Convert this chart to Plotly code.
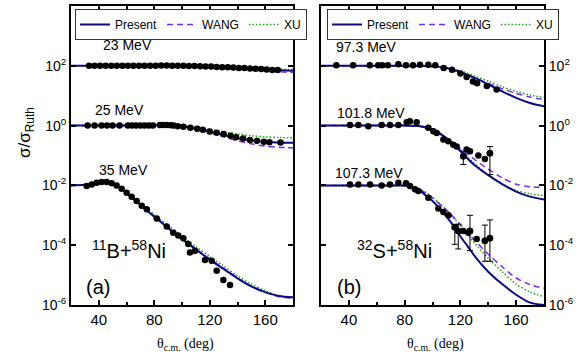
import plotly.graph_objects as go

# ---------------- data ----------------
# theory curves, panel (a): ratio sigma/sigma_Ruth before vertical offset
THETA_A = [20, 30, 40, 45, 50, 55, 60, 65, 70, 80, 90, 100, 110, 120, 130, 140, 150, 160, 170, 180]
A23_PRESENT = [1, 1, 1, 1, 1, 1, 1, 1, 1, 1, 1, 1.0, 0.98, 0.95, 0.91, 0.86, 0.8, 0.75, 0.71, 0.68]
A23_WANG    = [1, 1, 1, 1, 1, 1, 1, 1, 1, 1, 1, 0.99, 0.96, 0.92, 0.86, 0.8, 0.74, 0.68, 0.63, 0.6]
A23_XU      = [1, 1, 1, 1, 1, 1, 1, 1, 1, 1, 1, 1.0, 0.99, 0.97, 0.93, 0.89, 0.84, 0.8, 0.77, 0.75]
A25_PRESENT = [1, 1, 1, 1, 1, 1, 1, 1.01, 1.02, 1.03, 1.02, 0.95, 0.82, 0.64, 0.48, 0.38, 0.32, 0.29, 0.27, 0.265]
A25_WANG    = [1, 1, 1, 1, 1, 1, 1, 1.01, 1.02, 1.02, 1.0, 0.92, 0.76, 0.58, 0.42, 0.31, 0.245, 0.205, 0.19, 0.18]
A25_XU      = [1, 1, 1, 1, 1, 1, 1, 1.01, 1.02, 1.03, 1.03, 0.98, 0.88, 0.75, 0.62, 0.53, 0.46, 0.42, 0.4, 0.39]
A35_PRESENT = [1.0, 1.05, 1.28, 1.3, 1.15, 0.85, 0.56, 0.36, 0.22, 0.09, 0.038, 0.016, 0.0072, 0.0033, 0.0016,
               0.00078, 0.00042, 0.00027, 0.0002, 0.00018]
A35_WANG    = [1.0, 1.05, 1.28, 1.3, 1.15, 0.86, 0.57, 0.37, 0.23, 0.095, 0.04, 0.017, 0.0076, 0.0035, 0.0017,
               0.0008, 0.00042, 0.00026, 0.00019, 0.00017]
A35_XU      = [1.0, 1.06, 1.3, 1.32, 1.18, 0.9, 0.62, 0.4, 0.25, 0.105, 0.046, 0.02, 0.009, 0.0042, 0.002,
               0.00095, 0.0005, 0.0003, 0.0002, 0.00017]

# theory curves, panel (b)
THETA_B = [20, 40, 60, 70, 80, 85, 90, 95, 100, 105, 110, 115, 120, 125, 130, 140, 150, 160, 170, 180]
B97_PRESENT = [1, 1, 1, 1, 1, 1, 1.0, 0.99, 0.97, 0.92, 0.85, 0.74, 0.62, 0.5, 0.4, 0.24, 0.14, 0.085, 0.057, 0.044]
B97_WANG    = [1, 1, 1, 1, 1, 1, 0.99, 0.97, 0.93, 0.87, 0.78, 0.68, 0.58, 0.48, 0.4, 0.26, 0.17, 0.12, 0.09, 0.075]
B97_XU      = [1, 1, 1, 1, 1, 1, 1.0, 0.99, 0.98, 0.94, 0.88, 0.78, 0.68, 0.57, 0.47, 0.31, 0.2, 0.14, 0.105, 0.088]
B101_PRESENT = [1, 1, 1, 1, 1, 0.99, 0.97, 0.88, 0.74, 0.56, 0.38, 0.24, 0.14, 0.08, 0.048, 0.022, 0.011, 0.0062, 0.0042, 0.0034]
B101_WANG    = [1, 1, 1, 1, 1, 0.98, 0.94, 0.84, 0.7, 0.53, 0.38, 0.26, 0.17, 0.11, 0.075, 0.035, 0.018, 0.011, 0.009, 0.0085]
B101_XU      = [1, 1, 1, 1, 1, 0.99, 0.96, 0.86, 0.72, 0.54, 0.37, 0.24, 0.15, 0.09, 0.055, 0.022, 0.011, 0.0068, 0.0052, 0.0046]
B107_PRESENT = [1, 1, 1, 1, 0.99, 0.93, 0.72, 0.47, 0.3, 0.17, 0.09, 0.045, 0.02, 0.0095, 0.0045, 0.0013, 0.0005,
                0.00022, 0.00012, 0.0001]
B107_WANG    = [1, 1, 1, 1, 0.98, 0.9, 0.75, 0.56, 0.38, 0.24, 0.15, 0.087, 0.05, 0.027, 0.015, 0.005, 0.0019,
                0.0008, 0.00048, 0.00036]
B107_XU      = [1, 1, 1, 1, 0.99, 0.93, 0.8, 0.6, 0.4, 0.25, 0.15, 0.085, 0.045, 0.024, 0.012, 0.0037, 0.0013,
                0.0005, 0.00027, 0.00019]

# experimental data
D23_THETA = [33, 37, 41, 45, 49, 53, 57, 61, 65, 69, 73, 77, 81, 85, 89, 93, 97, 101, 105, 109, 113, 117, 121,
             125, 129, 133, 137, 141, 145, 149, 153, 157, 161, 165, 169]
D23_RATIO = [1.0, 1.0, 1.0, 1.0, 1.0, 1.0, 1.0, 1.0, 1.0, 1.0, 1.0, 1.0, 1.0, 1.02, 1.02, 1.0, 1.0, 1.0, 0.98,
             0.98, 0.96, 0.95, 0.95, 0.92, 0.9, 0.9, 0.88, 0.85, 0.84, 0.82, 0.8, 0.78, 0.75, 0.73, 0.72]
D25_THETA = [32, 37, 42, 46, 50, 55, 61, 64, 67, 70, 73, 76, 79, 84, 86, 89, 92, 94, 97, 101, 106, 111, 115,
             120, 125, 130, 135, 139, 144, 149, 154, 159, 163, 171]
D25_RATIO = [1.0, 1.0, 1.0, 1.0, 1.0, 1.0, 1.0, 1.0, 1.0, 1.0, 1.0, 1.0, 1.0, 1.04, 1.05, 1.04, 1.02, 1.0, 0.96,
             0.92, 0.85, 0.78, 0.72, 0.64, 0.58, 0.52, 0.46, 0.41, 0.37, 0.33, 0.31, 0.29, 0.28, 0.27]
D35_THETA = [31.3, 34.9, 38.5, 42.1, 45.7, 49.3, 52.9, 56.5, 60.1, 63.7, 67.3, 71.0, 74.6, 81.8, 89.0, 93.7,
             97.3, 101.0, 104.5, 105.7, 109.4, 116.6, 121.4, 125.0, 129.8, 134.6]
D35_RATIO = [0.95, 1.07, 1.23, 1.29, 1.29, 1.17, 1.0, 0.78, 0.57, 0.42, 0.30, 0.21, 0.158, 0.078, 0.042, 0.026,
             0.021, 0.017, 0.011, 0.0057, 0.0065, 0.0032, 0.003, 0.0014, 0.00068, 0.00047]

D97_THETA = [31, 43, 55, 61, 64, 68, 75.5, 81, 86, 91, 97, 102, 108, 114, 120, 124.5, 129, 132, 139, 146]
D97_RATIO = [1.05, 1.05, 1.05, 1.05, 1.05, 1.05, 1.12, 1.05, 1.05, 1.08, 1.08, 1.05, 0.84, 0.74, 0.55, 0.42,
             0.3, 0.26, 0.21, 0.16]
D101_THETA = [40.8, 46.8, 53.9, 63.5, 69.5, 75.5, 81.5, 83.8, 88.6, 97.0, 100.6, 103.0, 107.8, 111.3, 114.9,
              117.3, 122.1, 124.5, 126.9, 132.9, 137.6, 141.2]
D101_RATIO = [1.05, 1.05, 0.95, 1.05, 1.05, 1.05, 1.29, 1.39, 1.29, 0.84, 0.65, 0.57, 0.34, 0.3, 0.23, 0.2,
              0.095, 0.16, 0.14, 0.1, 0.077, 0.12]
D101_LO = [None] * 16 + [0.05, None, None, None, None, 0.023]
D101_HI = [None] * 16 + [0.14, None, None, None, None, 0.2]
D107_THETA = [40.8, 46.8, 55.2, 63.5, 69.5, 75.5, 81.0, 83.8, 87.4, 89.8, 97.0, 104.2, 107.8, 111.5, 116.0,
              118.5, 122.1, 125.7, 126.9, 131.7, 137.6, 141.2]
D107_RATIO = [1.08, 1.08, 1.08, 1.0, 1.08, 1.23, 1.17, 0.95, 0.74, 0.65, 0.39, 0.17, 0.13, 0.1, 0.04, 0.03,
              0.03, 0.026, 0.03, 0.016, 0.014, 0.017]
D107_LO = [None] * 14 + [0.0107, 0.0075, None, None, 0.0066, None, 0.0029, 0.0029]
D107_HI = [None] * 14 + [0.05, 0.05, None, None, 0.1, None, 0.047, 0.07]

OFFSETS = [100, 1, 0.01]
ENERGY_A = ["23 MeV", "25 MeV", "35 MeV"]
ENERGY_B = ["97.3 MeV", "101.8 MeV", "107.3 MeV"]
MODEL_NAMES = ["Present", "WANG", "XU"]
Y_TICKS = [1e-6, 1e-4, 1e-2, 1, 1e2]
Y_TICKTEXT = ["10<sup>-6</sup>", "10<sup>-4</sup>", "10<sup>-2</sup>", "10<sup>0</sup>", "10<sup>2</sup>"]
X_TICKS = [40, 80, 120, 160]

# ---------------- styles ----------------
STYLE = {
    "Present": dict(color="#0b0b80", dash="solid", width=2),
    "WANG": dict(color="#7a2be6", dash="6px,4px", width=1.5),
    "XU": dict(color="#1aa51a", dash="1.5px,2px", width=1.5),
}
FONT = "Liberation Sans, Arial, sans-serif"
SERIF = "Liberation Serif, Times New Roman, serif"

fig = go.Figure()

panels = [
    dict(xa="x", ya="y", legend="legend", theta=THETA_A,
         curves=[(A23_PRESENT, A23_WANG, A23_XU), (A25_PRESENT, A25_WANG, A25_XU), (A35_PRESENT, A35_WANG, A35_XU)],
         data=[(D23_THETA, D23_RATIO, None, None), (D25_THETA, D25_RATIO, None, None),
               (D35_THETA, D35_RATIO, None, None)]),
    dict(xa="x2", ya="y2", legend="legend2", theta=THETA_B,
         curves=[(B97_PRESENT, B97_WANG, B97_XU), (B101_PRESENT, B101_WANG, B101_XU),
                 (B107_PRESENT, B107_WANG, B107_XU)],
         data=[(D97_THETA, D97_RATIO, None, None), (D101_THETA, D101_RATIO, D101_LO, D101_HI),
               (D107_THETA, D107_RATIO, D107_LO, D107_HI)]),
]

for p in panels:
    for mi in [2, 1, 0]:
        name = MODEL_NAMES[mi]
        st = STYLE[name]
        for si, (off, cset) in enumerate(zip(OFFSETS, p["curves"])):
            fig.add_trace(go.Scatter(
                x=p["theta"], y=[v * off for v in cset[mi]], mode="lines", name=name,
                line=dict(color=st["color"], dash=st["dash"], width=st["width"], shape="spline", smoothing=0.8),
                xaxis=p["xa"], yaxis=p["ya"], legend=p["legend"], legendgroup=p["legend"] + name,
                legendrank=mi, showlegend=(si == 0), hoverinfo="skip"))
    for off, (th, r, lo, hi) in zip(OFFSETS, p["data"]):
        fig.add_trace(go.Scatter(
            x=th, y=[v * off for v in r], mode="markers",
            marker=dict(color="black", size=6.5, symbol="circle"),
            xaxis=p["xa"], yaxis=p["ya"], showlegend=False, hoverinfo="skip"))
        if lo is not None:
            idx = [i for i in range(len(th)) if lo[i] is not None]
            fig.add_trace(go.Scatter(
                x=[th[i] for i in idx], y=[r[i] * off for i in idx], mode="markers",
                marker=dict(color="black", size=6.5),
                error_y=dict(type="data", symmetric=False,
                             array=[(hi[i] - r[i]) * off for i in idx],
                             arrayminus=[(r[i] - lo[i]) * off for i in idx],
                             color="black", thickness=1, width=3),
                xaxis=p["xa"], yaxis=p["ya"], showlegend=False, hoverinfo="skip"))

W, H = 586, 359
def px_x(x): return x / W
def px_y(y): return 1 - y / H

common_x = dict(range=[20, 180], tickvals=X_TICKS, ticks="inside", ticklen=5, tickwidth=1.5,
                tickcolor="black", showline=True, linewidth=2, linecolor="black", mirror="ticks",
                showgrid=False, zeroline=False, tickfont=dict(family=FONT, size=15, color="black"),
                minor=dict(tickvals=[60, 100, 140], ticks="inside", ticklen=3, tickcolor="black"))
common_y = dict(type="log", range=[-6, 4], tickvals=Y_TICKS, ticktext=Y_TICKTEXT, ticks="inside", ticklen=5,
                tickwidth=1.5, tickcolor="black", showline=True, linewidth=2, linecolor="black",
                mirror="ticks", showgrid=False, zeroline=False,
                tickfont=dict(family=FONT, size=14, color="black"))

legend_common = dict(orientation="h", bordercolor="#333333", borderwidth=1, bgcolor="white",
                     font=dict(family=FONT, size=12, color="black"), xanchor="left", yanchor="top",
                     itemwidth=30, tracegroupgap=0)

annotations = []
for (xa, ya, labels, th_pos, ly) in [
        ("x", "y", ENERGY_A, [60.7, 55, 57.8], [2.7, 0.53, -1.47]),
        ("x2", "y2", ENERGY_B, [52.3, 55.6, 54.5], [2.63, 0.43, -1.58])]:
    for t, xx, yy in zip(labels, th_pos, ly):
        annotations.append(dict(x=xx, y=yy, xref=xa, yref=ya, text=t, showarrow=False,
                                font=dict(family=FONT, size=14, color="black")))
annotations += [
    dict(x=61.8, y=-4.15, xref="x", yref="y", text="<sup>11</sup>B+<sup>58</sup>Ni", showarrow=False,
         font=dict(family=FONT, size=20, color="black")),
    dict(x=39.6, y=-5.4, xref="x", yref="y", text="(a)", showarrow=False,
         font=dict(family=FONT, size=20, color="black")),
    dict(x=72.4, y=-4.15, xref="x2", yref="y2", text="<sup>32</sup>S+<sup>58</sup>Ni", showarrow=False,
         font=dict(family=FONT, size=20, color="black")),
    dict(x=40, y=-5.4, xref="x2", yref="y2", text="(b)", showarrow=False,
         font=dict(family=FONT, size=20, color="black")),
    dict(x=px_x(26), y=px_y(133), xref="paper", yref="paper", text="σ/σ<sub>Ruth</sub>", textangle=-90,
         xanchor="center", yanchor="middle",
         showarrow=False, font=dict(family=FONT, size=17, color="black")),
    dict(x=px_x(185), y=px_y(344), xref="paper", yref="paper", text="θ<sub>c.m.</sub> (deg)",
         xanchor="center", yanchor="middle",
         showarrow=False, font=dict(family=SERIF, size=14, color="black")),
    dict(x=px_x(435), y=px_y(344), xref="paper", yref="paper", text="θ<sub>c.m.</sub> (deg)",
         xanchor="center", yanchor="middle",
         showarrow=False, font=dict(family=SERIF, size=14, color="black")),
]

fig.update_layout(
    width=W, height=H, margin=dict(l=0, r=0, t=0, b=0, autoexpand=False),
    paper_bgcolor="white", plot_bgcolor="white",
    xaxis=dict(domain=[px_x(71), px_x(293)], anchor="y", **common_x),
    yaxis=dict(domain=[px_y(305), px_y(6)], anchor="x", side="left", **common_y),
    xaxis2=dict(domain=[px_x(321), px_x(544)], anchor="y2", **common_x),
    yaxis2=dict(domain=[px_y(305), px_y(6)], anchor="x2", side="right", **common_y),
    legend=dict(x=px_x(75), y=px_y(9), **legend_common),
    legend2=dict(x=px_x(327), y=px_y(9), **legend_common),
    annotations=annotations,
    showlegend=True,
)

fig.write_html("out.html")
